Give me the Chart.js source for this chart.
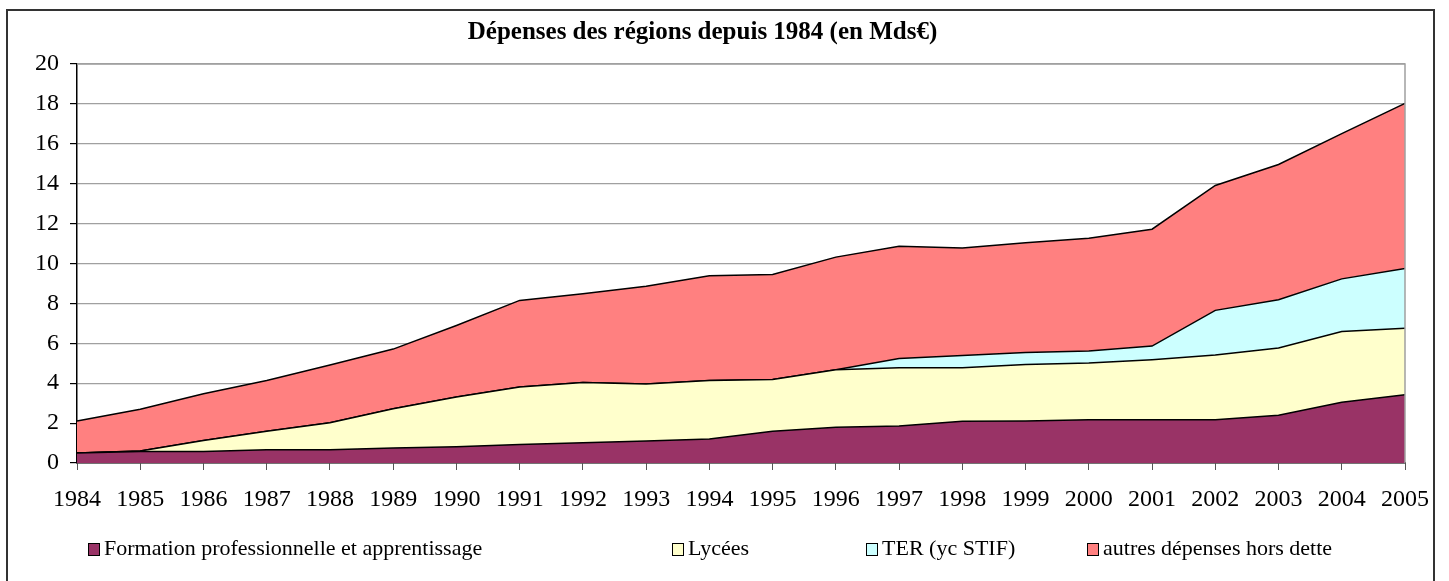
<!DOCTYPE html>
<html>
<head>
<meta charset="utf-8">
<script src="https://cdn.jsdelivr.net/npm/chart.js@4/dist/chart.umd.min.js"></script>
<style>
  html, body { margin: 0; padding: 0; background: #fff; }
  #wrap { position: relative; width: 1449px; height: 581px; }
  #legend { position: absolute; left: 0; top: 535px; width: 1449px; height: 26px;
            font-family: "Liberation Serif", serif; font-size: 22px; color: #000; }
  .item { position: absolute; top: 0; white-space: nowrap; line-height: 26px; }
  .box { display: inline-block; width: 10px; height: 11px; border: 1px solid #000;
         margin-right: 4px; vertical-align: -1px; }
</style>
</head>
<body>
<div id="wrap">
  <canvas id="graf" width="1449" height="581"></canvas>
  <div id="legend"></div>
</div>
<script>
const years = ['1984','1985','1986','1987','1988','1989','1990','1991','1992','1993','1994',
  '1995','1996','1997','1998','1999','2000','2001','2002','2003','2004','2005'];

const formation = [0.50,0.58,0.58,0.67,0.67,0.75,0.82,0.93,1.02,1.10,1.20,
  1.59,1.79,1.85,2.09,2.10,2.17,2.17,2.17,2.39,3.04,3.42];
const lycees = [0.00,0.02,0.55,0.92,1.35,1.97,2.49,2.88,3.02,2.86,2.94,
  2.60,2.88,2.92,2.68,2.84,2.84,3.01,3.24,3.37,3.55,3.34];
const ter = [0,0,0,0,0,0,0,0,0,0,0,
  0,0,0.47,0.62,0.60,0.60,0.68,2.24,2.42,2.64,2.99];
const autres = [1.60,2.09,2.34,2.55,2.89,2.99,3.58,4.34,4.44,4.90,5.24,
  5.26,5.65,5.63,5.39,5.50,5.66,5.86,6.26,6.78,7.28,8.28];

const yTicks = [0,2,4,6,8,10,12,14,16,18,20];

const noms = ['Formation professionnelle et apprentissage', 'Lycées', 'TER (yc STIF)', 'autres dépenses hors dette'];
const couleurs = ['#993366', '#FFFFCC', '#CCFFFF', '#FF8080'];
const series = [formation, lycees, ter, autres];
const legendX = [88, 672, 866, 1087]; // position des items de legende

const police = '"Liberation Serif", "Times New Roman", serif';

// cadre exterieur + bord gris du trace
const cadre = {
  id: 'cadre',
  beforeDraw(chart) {
    const c = chart.ctx;
    c.save();
    c.strokeStyle = '#333';
    c.lineWidth = 2;
    c.beginPath();
    c.moveTo(7, 581); c.lineTo(7, 10); c.lineTo(1434, 10); c.lineTo(1434, 581);
    c.stroke();
    c.restore();
  },
  afterDatasetsDraw(chart) {
    const a = chart.chartArea, c = chart.ctx;
    c.save();
    c.strokeStyle = '#a0a0a0';
    c.lineWidth = 1.5;
    c.beginPath();
    c.moveTo(a.left, a.top); c.lineTo(a.right, a.top); c.lineTo(a.right, a.bottom);
    c.stroke();
    c.restore();
  }
};

const datasets = series.map((s, i) => ({
  label: noms[i],
  data: s,
  backgroundColor: couleurs[i],
  borderColor: '#000',
  borderWidth: 1.5,
  pointRadius: 0,
  tension: 0,
  fill: i === 0 ? 'origin' : '-1'
}));

new Chart(document.getElementById('graf'), {
  type: 'line',
  data: { labels: years, datasets: datasets },
  plugins: [cadre],
  options: {
    responsive: false,
    animation: false,
    layout: { padding: { left: 0, right: 44, top: 0, bottom: 0 } },
    plugins: {
      legend: { display: false },
      tooltip: { enabled: false },
      title: {
        display: true,
        text: 'Dépenses des régions depuis 1984 (en Mds€)',
        color: '#000',
        font: { family: police, size: 25, weight: 'bold' },
        padding: { top: 18, bottom: 16 }
      }
    },
    scales: {
      x: {
        offset: false,
        grid: { drawOnChartArea: false, tickLength: 7, color: '#000', tickColor: '#555' },
        border: { color: '#000', width: 1.5 },
        ticks: { color: '#000', font: { family: police, size: 24 }, maxRotation: 0, autoSkip: false, padding: 15 },
        afterFit(s) { s.height = 118; }
      },
      y: {
        stacked: true,
        min: 0, max: 20,
        afterBuildTicks(s) { s.ticks = yTicks.map(v => ({ value: v })); },
        grid: { color: '#a0a0a0', lineWidth: 1.2, tickLength: 7, tickColor: '#000' },
        border: { color: '#000', width: 1.5 },
        ticks: { color: '#000', font: { family: police, size: 24 }, padding: 11 },
        afterFit(s) { s.width = 77; }
      }
    }
  }
});

// legende HTML construite a partir des series
const leg = document.getElementById('legend');
noms.forEach((n, i) => {
  const d = document.createElement('div');
  d.className = 'item';
  d.style.left = legendX[i] + 'px';
  d.innerHTML = '<span class="box" style="background:' + couleurs[i] + '"></span>' + n;
  leg.appendChild(d);
});
</script>
</body>
</html>
